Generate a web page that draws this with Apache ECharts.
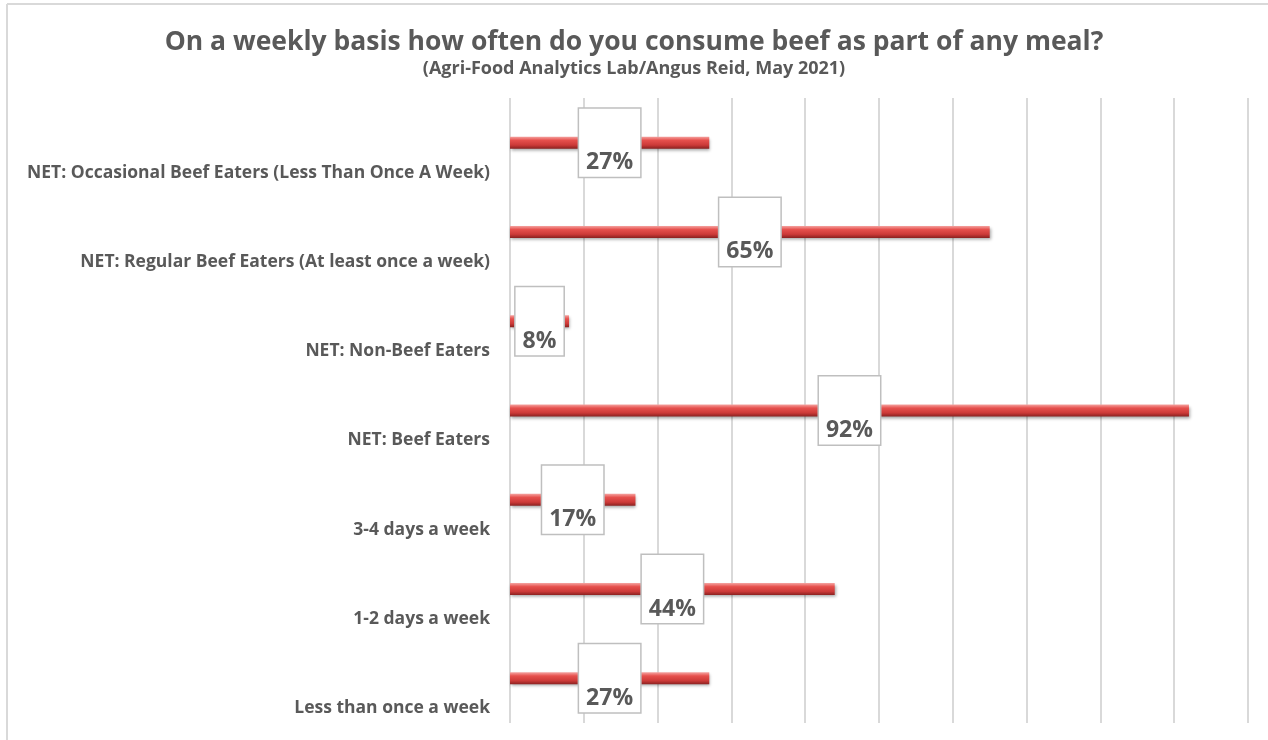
<!DOCTYPE html>
<html>
<head>
<meta charset="utf-8">
<script src="https://cdn.jsdelivr.net/npm/echarts@6/dist/echarts.min.js"></script>
<style>
html,body{margin:0;padding:0;background:#fff;}
#chart{width:1268px;height:740px;}
</style>
</head>
<body>
<div id="chart"></div>
<script>
// Data (top to bottom as shown)
const categories = [
  "NET: Occasional Beef Eaters (Less Than Once A Week)",
  "NET: Regular Beef Eaters (At least once a week)",
  "NET: Non-Beef Eaters",
  "NET: Beef Eaters",
  "3-4 days a week",
  "1-2 days a week",
  "Less than once a week"
];
const values = [27, 65, 8, 92, 17, 44, 27];
const titleText = "On a weekly basis how often do you consume beef as part of any meal?";
const subtitleText = "(Agri-Food Analytics Lab/Angus Reid, May 2021)";

const chart = echarts.init(document.getElementById('chart'), null, {renderer: 'canvas'});
const font = "'Open Sans', 'DejaVu Sans', sans-serif";
chart.setOption({
  backgroundColor: '#ffffff',
  animation: false,
  title: [{
    text: titleText,
    left: 'center',
    top: 24,
    textStyle: {color: '#595959', fontFamily: font, fontWeight: 'bold', fontSize: 26.5}
  }, {
    text: subtitleText,
    left: 'center',
    top: 55,
    textStyle: {color: '#595959', fontFamily: font, fontWeight: 'bold', fontSize: 18}
  }],
  graphic: [
    {type: 'line', shape: {x1: 7, y1: 4, x2: 1268, y2: 4}, style: {stroke: '#d9d9d9', lineWidth: 2}, silent: true},
    {type: 'line', shape: {x1: 7, y1: 4, x2: 7, y2: 740}, style: {stroke: '#d9d9d9', lineWidth: 2}, silent: true}
  ],
  grid: {left: 510, right: 20, top: 98, bottom: 17, containLabel: false},
  xAxis: {
    type: 'value',
    min: 0, max: 100, interval: 10,
    axisLabel: {show: false},
    axisLine: {show: false},
    axisTick: {show: false},
    splitLine: {show: true, lineStyle: {color: '#d9d9d9', width: 2}}
  },
  yAxis: {
    type: 'category',
    inverse: true,
    data: categories,
    axisLine: {show: false},
    axisTick: {show: false},
    axisLabel: {
      margin: 20,
      formatter: function (v) { return '{s| }\n{v|' + v + '}'; },
      rich: {
        s: {lineHeight: 60, fontSize: 1},
        v: {color: '#595959', fontFamily: font, fontWeight: 'bold', fontSize: 17.5, lineHeight: 22}
      }
    }
  },
  series: [{
    type: 'bar',
    data: values,
    barWidth: 12,
    itemStyle: {
      color: new echarts.graphic.LinearGradient(0, 0, 0, 1, [
        {offset: 0, color: '#f5a3a0'},
        {offset: 0.3, color: '#e6504d'},
        {offset: 0.7, color: '#cc3a38'},
        {offset: 1, color: '#8a2120'}
      ]),
      shadowColor: 'rgba(0,0,0,0.35)',
      shadowBlur: 3,
      shadowOffsetY: 2,
      shadowOffsetX: 1
    },
    label: {
      show: true,
      position: 'inside',
      formatter: function (p) { return '{s| }\n{v|' + p.value + '%}'; },
      backgroundColor: '#ffffff',
      borderColor: '#bfbfbf',
      borderWidth: 1.5,
      padding: [2, 7, 2, 7],
      rich: {
        s: {lineHeight: 40, fontSize: 1},
        v: {color: '#595959', fontFamily: font, fontWeight: 'bold', fontSize: 23, lineHeight: 24}
      }
    }
  }]
});
</script>
</body>
</html>
